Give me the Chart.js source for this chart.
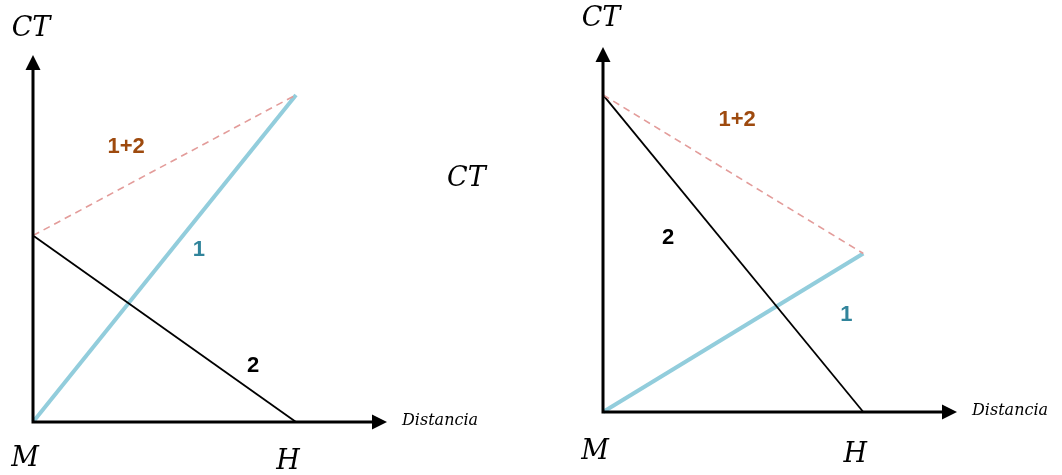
<!DOCTYPE html>
<html>
<head>
<meta charset="utf-8">
<script src="https://cdn.jsdelivr.net/npm/chart.js@4.4.1/dist/chart.umd.min.js"></script>
<style>
body { margin: 0; background: #fff; width: 1062px; height: 475px; overflow: hidden; position: relative; }
canvas { position: absolute; top: 0; }
#ctMedio { position: absolute; left: 447px; top: 161px; font: italic 27px 'DejaVu Serif'; color: #000; }
</style>
</head>
<body>
<canvas id="graficoIzq" width="531" height="475" style="left:0"></canvas>
<canvas id="graficoDer" width="531" height="475" style="left:531px"></canvas>
<div id="ctMedio">CT</div>
<script>
// distancia: M = 0, H = 10
var distancias = [0, 10];

// grafico izquierdo
var izqCosto1 = [0, 10];
var izqCosto2 = [5.7, 0];
var izqSuma = [5.7, 10];

// grafico derecho
var derCosto1 = [0, 5];
var derCosto2 = [10, 0];
var derSuma = [10, 5];

var etiquetasEjes = { y: "CT", x: "Distancia", origen: "M", fin: "H" };

function puntos(valores) {
    return distancias.map(function (d, i) { return { x: d, y: valores[i] }; });
}

var ejesPlugin = {
    id: "ejes",
    afterDatasetsDraw: function (chart, args, opts) {
        var ctx = chart.ctx;
        var sx = chart.scales.x, sy = chart.scales.y;
        var x0 = sx.getPixelForValue(0), y0 = sy.getPixelForValue(0);
        var xTip = chart.chartArea.right, yTip = chart.chartArea.top;
        ctx.save();
        ctx.strokeStyle = "#000";
        ctx.fillStyle = "#000";
        ctx.lineWidth = 3;
        ctx.beginPath();
        ctx.moveTo(x0, y0);
        ctx.lineTo(x0, yTip + 12);
        ctx.moveTo(x0 - 1.5, y0);
        ctx.lineTo(xTip - 12, y0);
        ctx.stroke();
        // flechas
        ctx.beginPath();
        ctx.moveTo(x0, yTip);
        ctx.lineTo(x0 - 7.5, yTip + 15);
        ctx.lineTo(x0 + 7.5, yTip + 15);
        ctx.closePath();
        ctx.fill();
        ctx.beginPath();
        ctx.moveTo(xTip, y0);
        ctx.lineTo(xTip - 15, y0 - 7.5);
        ctx.lineTo(xTip - 15, y0 + 7.5);
        ctx.closePath();
        ctx.fill();

        ctx.font = "italic 27px 'DejaVu Serif'";
        ctx.textAlign = "center";
        ctx.textBaseline = "middle";
        ctx.fillText(etiquetasEjes.y, x0 - 2, yTip - opts.ctArriba);
        ctx.fillText(etiquetasEjes.origen, x0 - 8, y0 + opts.mAbajo);
        ctx.fillText(etiquetasEjes.fin, sx.getPixelForValue(10) - 8, y0 + opts.mAbajo + 3);
        ctx.font = "italic 16px 'DejaVu Serif'";
        ctx.textAlign = "left";
        ctx.fillText(etiquetasEjes.x, xTip + 15, y0 - 1);

        opts.etiquetas.forEach(function (e) {
            ctx.font = "bold 22px 'Liberation Sans'";
            ctx.fillStyle = e.color;
            ctx.textAlign = "center";
            ctx.fillText(e.texto, sx.getPixelForValue(e.x), sy.getPixelForValue(e.y));
        });
        ctx.restore();
    }
};

function crearGrafico(id, c1, c2, suma, ext, etiquetas) {
    return new Chart(document.getElementById(id), {
        type: "scatter",
        data: {
            datasets: [
                { label: "1+2", data: puntos(suma), showLine: true, borderColor: "#E39C9A", borderWidth: 1.6, borderDash: [7, 5], pointRadius: 0, clip: false },
                { label: "2", data: puntos(c2), showLine: true, borderColor: "#000", borderWidth: 1.8, pointRadius: 0, clip: false },
                { label: "1", data: puntos(c1), showLine: true, borderColor: "#92CDDC", borderWidth: 4, pointRadius: 0, clip: false }
            ]
        },
        options: {
            responsive: false,
            animation: false,
            layout: { padding: ext.padding },
            scales: {
                x: { type: "linear", display: false, min: 0, max: ext.xMax },
                y: { type: "linear", display: false, min: 0, max: ext.yMax }
            },
            plugins: {
                legend: { display: false },
                tooltip: { enabled: false },
                ejes: { etiquetas: etiquetas, ctArriba: ext.ctArriba, mAbajo: ext.mAbajo }
            }
        },
        plugins: [ejesPlugin]
    });
}

crearGrafico("graficoIzq", izqCosto1, izqCosto2, izqSuma,
    { padding: { left: 33, top: 55, right: 144, bottom: 53 }, xMax: 13.46, yMax: 11.22, ctArriba: 26, mAbajo: 37 },
    [
        { texto: "1+2", x: 3.54, y: 8.41, color: "#9E4A0E" },
        { texto: "1", x: 6.31, y: 5.26, color: "#31849B" },
        { texto: "2", x: 8.37, y: 1.71, color: "#000" }
    ]);

crearGrafico("graficoDer", derCosto1, derCosto2, derSuma,
    { padding: { left: 72, top: 47, right: 105, bottom: 63 }, xMax: 13.6, yMax: 11.51, ctArriba: 28, mAbajo: 40 },
    [
        { texto: "1+2", x: 5.15, y: 9.21, color: "#9E4A0E" },
        { texto: "2", x: 2.5, y: 5.49, color: "#000" },
        { texto: "1", x: 9.35, y: 3.06, color: "#31849B" }
    ]);
</script>
</body>
</html>
